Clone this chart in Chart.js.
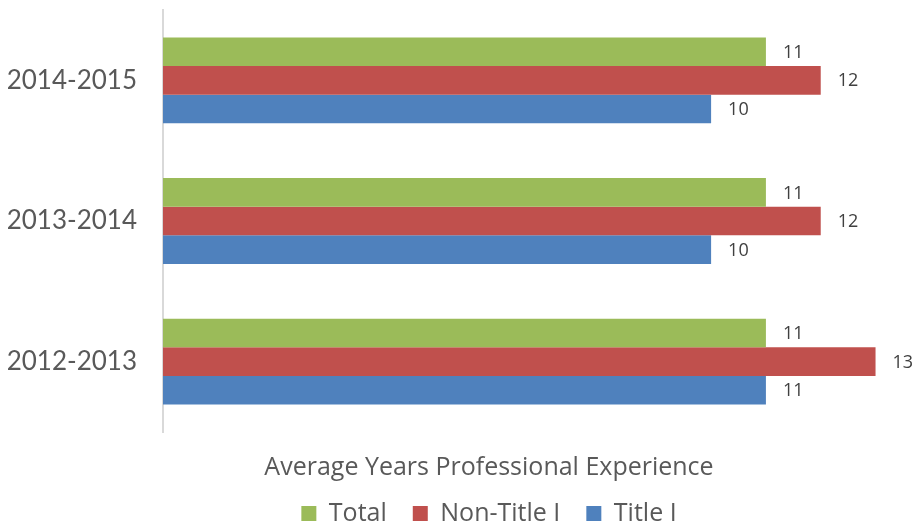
<!DOCTYPE html>
<html>
<head>
<meta charset="utf-8">
<script src="https://cdn.jsdelivr.net/npm/chart.js@4"></script>
<style>
  html, body { margin: 0; padding: 0; background: #fff; }
  #wrap { width: 915px; height: 526px; }
</style>
</head>
<body>
<div id="wrap"><canvas id="chart"></canvas></div>
<script>
const years = ['2014-2015', '2013-2014', '2012-2013'];
const totalValues = [11, 11, 11];
const nonTitleValues = [12, 12, 13];
const titleValues = [10, 10, 11];

const textColor = '#595959';

// value labels just past the end of each bar
const barLabels = {
    id: 'barLabels',
    afterDatasetsDraw(chart) {
        const ctx = chart.ctx;
        ctx.save();
        ctx.font = '18px "Open Sans"';
        ctx.fillStyle = '#404040';
        ctx.textAlign = 'left';
        ctx.textBaseline = 'middle';
        chart.data.datasets.forEach((ds, i) => {
            chart.getDatasetMeta(i).data.forEach((bar, j) => {
                ctx.fillText(ds.data[j], bar.x + 17, bar.y + 1);
            });
        });
        ctx.restore();
    }
};

new Chart(document.getElementById('chart'), {
    type: 'bar',
    data: {
        labels: years,
        datasets: [
            { label: 'Total', data: totalValues, backgroundColor: '#9BBB59' },
            { label: 'Non-Title I', data: nonTitleValues, backgroundColor: '#C0504D' },
            { label: 'Title I', data: titleValues, backgroundColor: '#4F81BD' }
        ]
    },
    options: {
        indexAxis: 'y',
        responsive: true,
        maintainAspectRatio: false,
        animation: false,
        // negative right padding only widens the legend box so it centres like the original
        layout: { autoPadding: false, padding: { top: 10, right: -55, left: 8, bottom: -10 } },
        datasets: {
            bar: { categoryPercentage: 0.61, barPercentage: 1.0 }
        },
        scales: {
            x: {
                min: 0,
                max: 13.72,
                grid: { display: false, drawTicks: false },
                border: { display: false },
                ticks: { display: false }
            },
            y: {
                grid: { display: false, drawTicks: false },
                border: { display: true, color: '#D9D9D9', width: 2 },
                ticks: {
                    color: textColor,
                    font: { family: 'Lato', size: 26 },
                    padding: 26
                },
                afterFit(scale) {
                    scale.width = 155;
                    scale.paddingTop = 0;
                    scale.paddingBottom = 0;
                }
            }
        },
        plugins: {
            legend: {
                position: 'bottom',
                title: {
                    display: true,
                    text: 'Average Years Professional Experience',
                    color: textColor,
                    font: { family: 'Open Sans', size: 25, lineHeight: 1 },
                    padding: { top: 23, bottom: -5 }
                },
                labels: {
                    color: textColor,
                    font: { family: 'Open Sans', size: 25 },
                    boxWidth: 15,
                    boxHeight: 15,
                    padding: 26
                }
            },
            tooltip: { enabled: false }
        }
    },
    plugins: [barLabels]
});
</script>
</body>
</html>
